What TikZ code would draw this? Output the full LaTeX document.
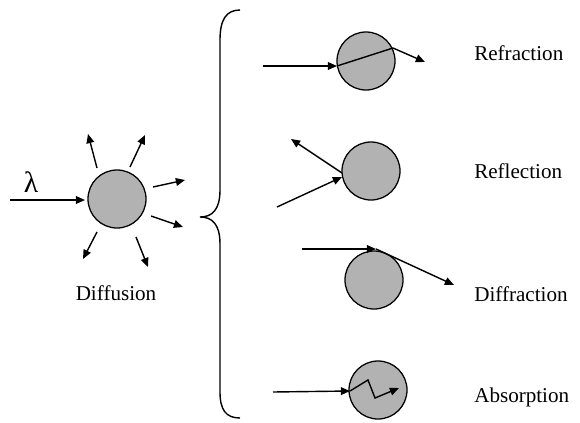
\documentclass[tikz,border=0pt]{standalone}
\usepackage{fontspec}
\setmainfont{Liberation Serif}
\usetikzlibrary{positioning,arrows.meta}
\newcommand*{\lbl}[1]{\fontsize{15}{18}\selectfont #1}

\begin{document}
\begin{tikzpicture}[x=0.025cm,y=-0.025cm,
    ball/.style={circle,draw,line width=0.9pt,fill=black!30,
                 minimum size=1.45cm,inner sep=0pt},
    ray/.style={line width=1pt,-{Triangle[length=6.5pt,width=5.5pt]}},
    seg/.style={line width=1pt},
    tag/.style={anchor=west,inner sep=0pt}]
\useasboundingbox (0,0) rectangle (580,422);
% Diffusion: one ray in, six rays out
\node [ball] (diff) at (117,199) {};
\coordinate (din) at (10,200);
\coordinate (dhit) at (85,200);
\draw [ray] (din) -- node[pos=0.28,above=5pt,inner sep=0pt]
  {\fontsize{21}{24}\selectfont λ} (dhit);
\coordinate (s1) at (97,168);  \coordinate (e1) at (88,134);
\coordinate (s2) at (130,167); \coordinate (e2) at (145,135);
\coordinate (s3) at (153,187); \coordinate (e3) at (185,180);
\coordinate (s4) at (151,216); \coordinate (e4) at (183,227);
\coordinate (s5) at (97,232);  \coordinate (e5) at (83,259);
\coordinate (s6) at (136,237); \coordinate (e6) at (148,267);
\foreach \i in {1,...,6}
  \draw [ray] (s\i) -- (e\i);
\node (difflbl) at (116,293) {\lbl{Diffusion}};
% Brace
\draw [seg] (240,10) .. controls (226,10) and (220,20) .. (220,40)
  -- (220,190) .. controls (220,210) and (212,217) .. (200,217)
  .. controls (212,217) and (220,224) .. (220,244)
  -- (220,392) .. controls (220,410) and (226,418) .. (240,418);
% Refraction
\node [ball] (refr) at (366,61) {};
\coordinate (rfin) at (263,66);
\coordinate (rfa) at (337,66);
\coordinate (rfb) at (393,48);
\coordinate (rfout) at (425,62);
\draw [ray] (rfin) -- (rfa);
\draw [seg] (rfa) -- (rfb);
\draw [ray] (rfb) -- (rfout);
\node [tag] (refrlbl) at (474,53) {\lbl{Refraction}};
% Reflection
\node [ball] (refl) at (371,171) {};
\coordinate (rlin) at (277,207);
\coordinate (rla) at (342,177);
\coordinate (rlb) at (342,173);
\coordinate (rlout) at (291,139);
\draw [ray] (rlin) -- (rla);
\draw [ray] (rlb) -- (rlout);
\node [tag] (refllbl) at (474,171) {\lbl{Reflection}};
% Diffraction
\node [ball] (diffr) at (374,280) {};
\coordinate (dfin) at (302,249);
\coordinate (dfa) at (376,249);
\coordinate (dfout) at (454,285);
\draw [ray] (dfin) -- (dfa);
\draw [ray] (dfa) -- (dfout);
\node [tag] (diffrlbl) at (474,294) {\lbl{Diffraction}};
% Absorption
\node [ball] (absb) at (378,390) {};
\coordinate (abin) at (273,392);
\coordinate (aba) at (350,391);
\coordinate (abb) at (368,380);
\coordinate (abc) at (375,398);
\coordinate (abd) at (399,388);
\draw [ray] (abin) -- (aba);
\draw [ray] (aba) -- (abb) -- (abc) -- (abd);
\node [tag] (abslbl) at (474,397) {\lbl{Absorption}};
\end{tikzpicture}
\end{document}
